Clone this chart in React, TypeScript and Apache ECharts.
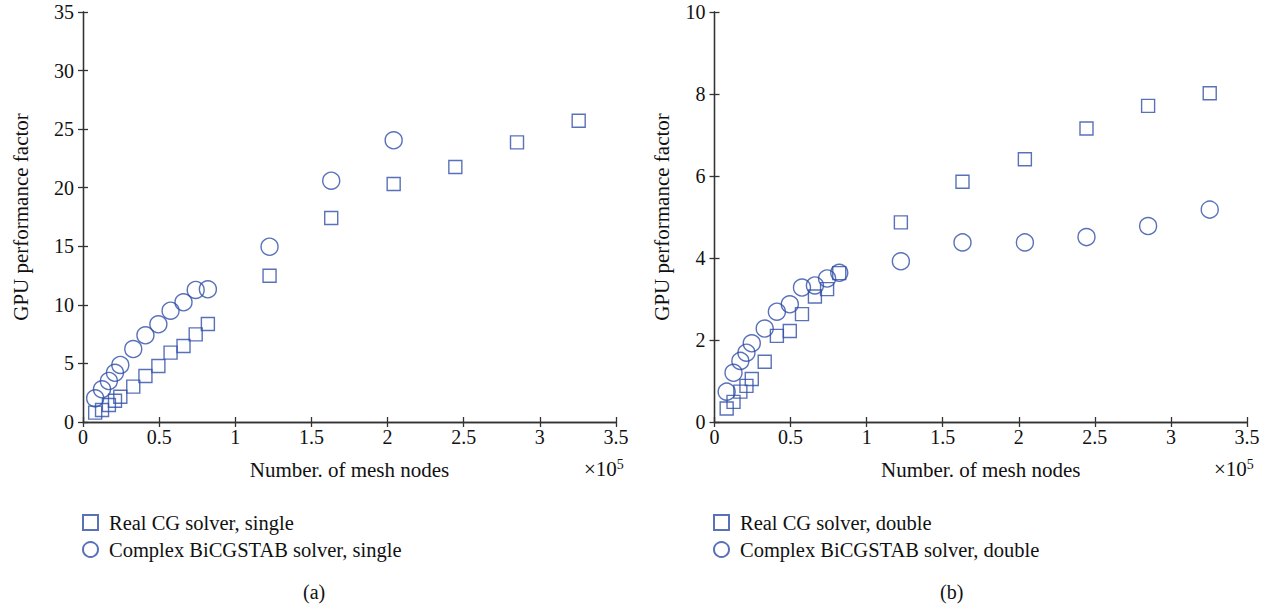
import React, { useEffect, useRef } from "react";
import * as echarts from "echarts";

// Number of mesh nodes (×10^5)
const meshNodes = [0.08, 0.125, 0.17, 0.21, 0.245, 0.33, 0.41, 0.495, 0.575, 0.66, 0.74, 0.82, 1.225, 1.63, 2.04, 2.445, 2.85, 3.255];

// (a) single precision
const realCGSingle = [0.8, 1.02, 1.45, 1.82, 2.16, 3.02, 3.93, 4.78, 5.92, 6.49, 7.48, 8.37, 12.49, 17.41, 20.32, 21.77, 23.87, 25.72];
const bicgSingle = [2.02, 2.79, 3.5, 4.2, 4.87, 6.23, 7.4, 8.34, 9.5, 10.22, 11.27, 11.33, 14.96, 20.6, 24.05];

// (b) double precision
const realCGDouble = [0.33, 0.49, 0.74, 0.88, 1.05, 1.47, 2.1, 2.22, 2.63, 3.06, 3.24, 3.63, 4.87, 5.86, 6.41, 7.16, 7.71, 8.02];
const bicgDouble = [0.74, 1.2, 1.49, 1.69, 1.92, 2.28, 2.69, 2.87, 3.28, 3.33, 3.5, 3.64, 3.92, 4.38, 4.38, 4.51, 4.78, 5.18];

const xTicks = { min: 0, max: 3.5, interval: 0.5 };
const yTicksA = { min: 0, max: 35, interval: 5 };
const yTicksB = { min: 0, max: 10, interval: 2 };

const names = {
  a1: "Real CG solver, single",
  a2: "Complex BiCGSTAB solver, single",
  b1: "Real CG solver, double",
  b2: "Complex BiCGSTAB solver, double",
};

const FONT = "Liberation Serif";
const BLUE = "#2f4ea8";
const AXIS = "#333333";

function pairs(xs: number[], ys: number[]) {
  return ys.map((y, i) => [xs[i], y]);
}

export default function App() {
  const ref = useRef<HTMLDivElement>(null);
  useEffect(() => {
    if (!ref.current) return;
    const chart = echarts.init(ref.current, null, { renderer: "svg" });

    const axisLine = { show: true, lineStyle: { color: AXIS, width: 1.3 } };
    const tick = { show: true, inside: true, length: 5, lineStyle: { color: AXIS, width: 1.3 } };
    const label = { fontFamily: FONT, fontSize: 20, color: "#111" };
    const nameStyle = { fontFamily: FONT, fontSize: 21, color: "#111" };

    const mkX = (grid: number) => [
      {
        type: "value", gridIndex: grid, position: "bottom", ...xTicks,
        axisLine, axisTick: tick, splitLine: { show: false },
        axisLabel: { ...label, margin: 5 },
        name: "Number. of mesh nodes", nameLocation: "middle", nameGap: 37,
        nameTextStyle: nameStyle,
      },
      {
        type: "value", gridIndex: grid, position: "top", ...xTicks,
        axisLine, axisTick: tick, splitLine: { show: false }, axisLabel: { show: false },
      },
    ];
    const mkY = (grid: number, t: any, gap: number) => [
      {
        type: "value", gridIndex: grid, position: "left", ...t,
        axisLine, axisTick: tick, splitLine: { show: false },
        axisLabel: { ...label, margin: 9 },
        name: "GPU performance factor", nameLocation: "middle", nameGap: gap,
        nameTextStyle: nameStyle,
      },
      {
        type: "value", gridIndex: grid, position: "right", ...t,
        axisLine, axisTick: tick, splitLine: { show: false }, axisLabel: { show: false },
      },
    ];

    const sq = { symbol: "rect", symbolSize: 13, itemStyle: { color: "rgba(255,255,255,0)", borderColor: BLUE, borderWidth: 1.4 } };
    const ci = { symbol: "circle", symbolSize: 17, itemStyle: { color: "rgba(255,255,255,0)", borderColor: BLUE, borderWidth: 1.4 } };

    const legendText = { fontFamily: FONT, fontSize: 20.5, color: "#111", padding: [0, 0, 0, 6] };
    const sup = {
      text: "×10{s|5}", fontFamily: FONT, fontSize: 21, fill: "#111",
      rich: { s: { fontFamily: FONT, fontSize: 14, verticalAlign: "top", padding: [0, 0, 9, 0] } },
    };

    chart.setOption({
      animation: false,
      backgroundColor: "#ffffff",
      grid: [
        { left: 83, right: 653, top: 12, bottom: 187 },
        { left: 714.5, right: 22, top: 12, bottom: 187 },
      ],
      xAxis: [...mkX(0), ...mkX(1)],
      yAxis: [...mkY(0, yTicksA, 52), ...mkY(1, yTicksB, 42)],
      legend: [
        {
          orient: "vertical", left: 82, top: 512, itemGap: 6, itemWidth: 15, itemHeight: 15, padding: 0,
          data: [names.a1, names.a2], textStyle: legendText,
        },
        {
          orient: "vertical", left: 713, top: 512, itemGap: 6, itemWidth: 15, itemHeight: 15, padding: 0,
          data: [names.b1, names.b2], textStyle: legendText,
        },
      ],
      graphic: [
        { type: "text", left: 584, top: 457, style: sup },
        { type: "text", left: 1214, top: 457, style: sup },
        { type: "text", left: 303, top: 582, style: { text: "(a)", fontFamily: FONT, fontSize: 20, fill: "#111" } },
        { type: "text", left: 940, top: 582, style: { text: "(b)", fontFamily: FONT, fontSize: 20, fill: "#111" } },
      ],
      series: [
        { type: "scatter", name: names.a1, xAxisIndex: 0, yAxisIndex: 0, data: pairs(meshNodes, realCGSingle), ...sq },
        { type: "scatter", name: names.a2, xAxisIndex: 0, yAxisIndex: 0, data: pairs(meshNodes, bicgSingle), ...ci },
        { type: "scatter", name: names.b1, xAxisIndex: 2, yAxisIndex: 2, data: pairs(meshNodes, realCGDouble), ...sq },
        { type: "scatter", name: names.b2, xAxisIndex: 2, yAxisIndex: 2, data: pairs(meshNodes, bicgDouble), ...ci },
      ],
    });
    return () => chart.dispose();
  }, []);
  return <div ref={ref} style={{ position: "fixed", left: 0, top: 0, width: 1269, height: 609 }} />;
}
